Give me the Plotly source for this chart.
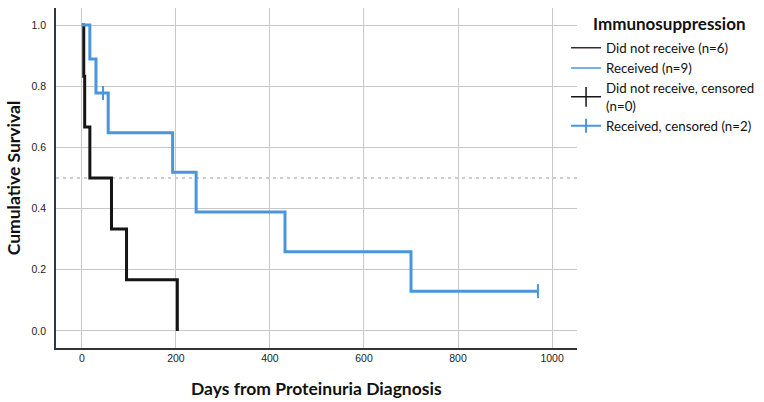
import plotly.graph_objects as go

# Kaplan-Meier steps
days_not_received = [0, 4, 6, 17, 63, 95, 203]
surv_not_received = [1.0, 0.833, 0.667, 0.5, 0.333, 0.167, 0.0]

days_received = [0, 17, 30, 56, 193, 243, 432, 700, 970]
surv_received = [1.0, 0.889, 0.778, 0.648, 0.519, 0.389, 0.259, 0.130, 0.130]

# censored observations
cens_days_received = [45, None, 970]
cens_surv_received = [0.778, None, 0.130]

x_ticks = [0, 200, 400, 600, 800, 1000]
y_ticks = [0.0, 0.2, 0.4, 0.6, 0.8, 1.0]

BLACK = "#151515"
BLUE = "#4a96dc"

fig = go.Figure()

# survival curves (thick), legend handled by thin entries below
fig.add_trace(go.Scatter(x=days_not_received, y=surv_not_received, mode="lines",
                         line=dict(color=BLACK, width=3, shape="hv"), showlegend=False))
fig.add_trace(go.Scatter(x=days_received, y=surv_received, mode="lines",
                         line=dict(color=BLUE, width=3, shape="hv"), showlegend=False))

# legend entries
fig.add_trace(go.Scatter(x=[None], y=[None], mode="lines",
                         line=dict(color="#3a2a2a", width=1.5), name="Did not receive (n=6)"))
fig.add_trace(go.Scatter(x=[None], y=[None], mode="lines",
                         line=dict(color=BLUE, width=1.5), name="Received (n=9)"))
fig.add_trace(go.Scatter(x=[None], y=[None], mode="lines+markers",
                         line=dict(color=BLACK, width=1.5),
                         marker=dict(symbol="line-ns-open", size=14, color=BLACK,
                                     line=dict(width=1.5, color=BLACK)),
                         name="Did not receive, censored<br>(n=0)"))
fig.add_trace(go.Scatter(x=cens_days_received, y=cens_surv_received, mode="lines+markers",
                         connectgaps=False,
                         line=dict(color=BLUE, width=2),
                         marker=dict(symbol="line-ns-open", size=10, color=BLUE,
                                     line=dict(width=2, color=BLUE)),
                         name="Received, censored (n=2)"))

# median reference line
fig.add_shape(type="line", xref="paper", x0=0, x1=1, yref="y", y0=0.5, y1=0.5,
              line=dict(color="#9a9a9a", width=1, dash="3px,4px"), layer="below")

# axis titles and legend heading
fig.add_annotation(text="<b>Days from Proteinuria Diagnosis</b>", xref="paper", yref="paper",
                   x=0.5, y=-0.118, xanchor="center", yanchor="middle", showarrow=False,
                   font=dict(family="Lato", size=17.5, color="#111"))
fig.add_annotation(text="<b>Cumulative Survival</b>", xref="paper", yref="paper",
                   x=-0.082, y=0.5, xanchor="center", yanchor="middle", showarrow=False,
                   textangle=-90, font=dict(family="Lato", size=17.5, color="#111"))
fig.add_annotation(text="<b>Immunosuppression</b>", xref="paper", yref="paper",
                   x=1.177, y=0.953, xanchor="center", yanchor="middle", showarrow=False,
                   font=dict(family="Lato", size=17, color="#111"))

fig.update_layout(
    width=764, height=402,
    margin=dict(l=56, r=187, t=8, b=54, autoexpand=False),
    paper_bgcolor="white", plot_bgcolor="white",
    font=dict(family="Lato", color="#111"),
    legend=dict(
        x=0.979, xanchor="left", y=0.928, yanchor="top",
        font=dict(size=13.3, family="Lato", color="#111"),
        itemwidth=30, tracegroupgap=0,
        bgcolor="rgba(0,0,0,0)",
    ),
    xaxis=dict(
        range=[-55, 1053], tickvals=x_ticks, automargin=False,
        showgrid=True, gridcolor="#c8c8c8", gridwidth=1,
        zeroline=False, showline=True, linecolor="#333", linewidth=1.5,
        ticks="", tickfont=dict(family="Liberation Sans", size=10.5, color="#222"),
    ),
    yaxis=dict(
        range=[-0.056, 1.056], tickvals=y_ticks, tickformat=".1f", automargin=False,
        showgrid=True, gridcolor="#c8c8c8", gridwidth=1,
        zeroline=False, showline=True, linecolor="#2b3a44", linewidth=1.5,
        ticks="", ticklabelstandoff=6,
        tickfont=dict(family="Liberation Sans", size=10.5, color="#222"),
    ),
)

# drop the default page margin so the figure sits at the window's top-left corner
fig.write_html("out.html", config={"displayModeBar": False},
               post_script="document.body.style.margin='0';")
